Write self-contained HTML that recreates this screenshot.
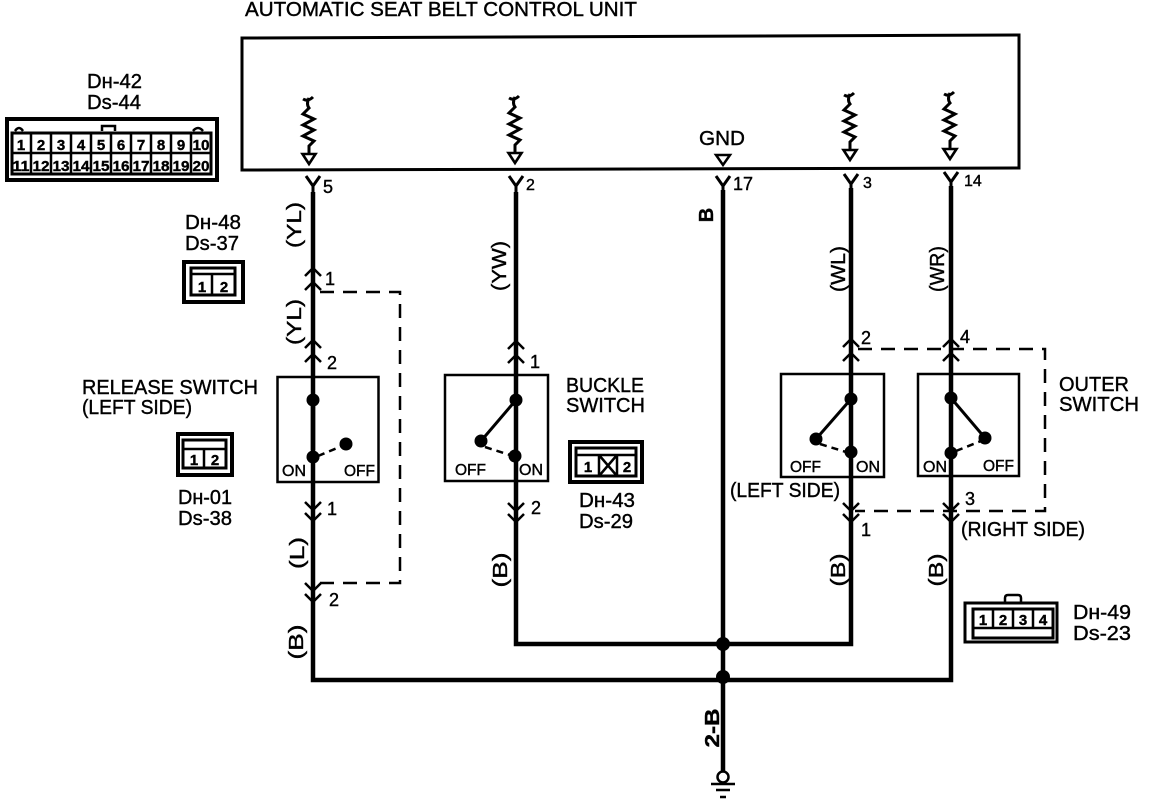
<!DOCTYPE html>
<html><head><meta charset="utf-8"><title>Automatic Seat Belt Control Unit</title>
<style>
html,body{margin:0;padding:0;background:#fff;width:1152px;height:800px;overflow:hidden}
svg{display:block}
text{font-family:"Liberation Sans",sans-serif;font-size:20px;fill:#000;stroke:#000;stroke-width:.4}
.s{font-size:16px}
.c{font-size:15px;font-weight:bold}
.m{text-anchor:middle}
.w{fill:none;stroke:#000;stroke-width:4.5}
.a{fill:none;stroke:#000;stroke-width:3}
.t{fill:none;stroke:#000;stroke-width:2.5}
.d{fill:none;stroke:#000;stroke-width:2.5;stroke-dasharray:14 9}
.b{fill:none;stroke:#000;stroke-width:3}
.o{fill:none;stroke:#000;stroke-width:4}
</style></head><body>
<svg width="1152" height="800" viewBox="0 0 1152 800" xmlns="http://www.w3.org/2000/svg">
<defs>
<g id="r">
<path d="M-6 3 Q-1 6 4 1 M0 2 Q-3 8 0 12 L-6 18 L5 23 L-6 29 L5 34 L-6 40 L5 45 L0 50 L0 57" fill="none" stroke="#000" stroke-width="3"/>
<path d="M-6.5 58 L6.5 58 L0 68 Z" fill="#fff" stroke="#000" stroke-width="2.6"/>
</g>
<path id="y" d="M-7 0 L0 10 L7 0 M0 10 L0 18" fill="none" stroke="#000" stroke-width="3"/>
<path id="u" d="M-8 8 L0 0 L8 8 M-8 22 L0 14 L8 22" fill="none" stroke="#000" stroke-width="2.5"/>
<path id="n" d="M-8 0 L0 8 L8 0 M-8 11 L0 19 L8 11" fill="none" stroke="#000" stroke-width="2.5"/>
</defs>

<text x="245" y="16" textLength="392" lengthAdjust="spacingAndGlyphs">AUTOMATIC SEAT BELT CONTROL UNIT</text>

<path d="M242 38 L1019 35 L1019 168 L242 170 Z" class="b"/>

<use href="#r" x="309" y="96"/>
<use href="#r" x="515" y="95"/>
<use href="#r" x="850" y="92"/>
<use href="#r" x="950" y="91"/>
<text x="722" y="145" class="m" textLength="46" lengthAdjust="spacingAndGlyphs">GND</text>
<path d="M716 155 L730 155 L723 165 Z" fill="#fff" stroke="#000" stroke-width="2.5"/>

<use href="#y" x="313" y="176"/><use href="#y" x="516" y="176"/><use href="#y" x="723" y="176"/><use href="#y" x="851" y="174"/><use href="#y" x="951" y="172"/>
<text x="323" y="193" style="font-size:18px">5</text><text x="526" y="190" class="s">2</text><text x="733" y="190" style="font-size:18px" textLength="20" lengthAdjust="spacingAndGlyphs">17</text><text x="863" y="188" class="s">3</text><text x="964" y="186" class="s">14</text>

<path d="M313 192 V680 H951 V186" class="w"/>
<path d="M516 192 V644 H851 V188" class="w"/>
<path d="M723 190 V772" class="w"/>
<circle cx="723" cy="644" r="7"/>
<circle cx="723" cy="677" r="7"/>
<circle cx="723" cy="777" r="5.5" fill="#fff" stroke="#000" stroke-width="2.5"/>
<path d="M711 784 H735 M716 790 H730 M720 797 H726" stroke="#000" stroke-width="2.6"/>

<path d="M320 292 H400 V583 H320" class="d"/>
<path d="M858 349 H1045 V511 H855" class="d"/>

<rect x="277.500" y="377" width="101" height="105" class="t"/>
<rect x="445" y="375" width="103" height="106" class="t"/>
<rect x="781" y="374" width="103" height="103" class="t"/>
<rect x="918" y="374" width="101" height="102" class="t"/>

<circle cx="313" cy="400" r="6.500"/><circle cx="313" cy="457" r="6.500"/><circle cx="346" cy="444" r="6.500"/>
<path d="M313 400 V450" class="w"/>
<path d="M318 456 L342 446" class="t" stroke-dasharray="7 5"/>
<circle cx="516" cy="400" r="6.500"/><circle cx="481" cy="441" r="6.500"/><circle cx="515" cy="456" r="6.500"/>
<path d="M516 400 L481 441" class="a"/>
<path d="M485 447 L510 455" class="t" stroke-dasharray="7 5"/>
<circle cx="851" cy="399" r="6.500"/><circle cx="816" cy="439" r="6.500"/><circle cx="851" cy="452" r="6.500"/>
<path d="M851 399 L816 439" class="a"/>
<path d="M820 444 L846 452" class="t" stroke-dasharray="7 5"/>
<circle cx="951" cy="398" r="6.500"/><circle cx="985" cy="438" r="6.500"/><circle cx="951" cy="453" r="6.500"/>
<path d="M951 398 L985 438" class="a"/>
<path d="M956 451 L981 441" class="t" stroke-dasharray="7 5"/>

<text x="282" y="476" class="s">ON</text><text x="344" y="476" class="s" textLength="31" lengthAdjust="spacingAndGlyphs">OFF</text>
<text x="455" y="475" class="s" textLength="31" lengthAdjust="spacingAndGlyphs">OFF</text><text x="519" y="475" class="s">ON</text>
<text x="790" y="472" class="s" textLength="31" lengthAdjust="spacingAndGlyphs">OFF</text><text x="856" y="472" class="s">ON</text>
<text x="923" y="472" class="s">ON</text><text x="983" y="471" class="s" textLength="31" lengthAdjust="spacingAndGlyphs">OFF</text>

<use href="#u" x="313" y="268"/><use href="#u" x="313" y="340"/><use href="#n" x="313" y="502"/><use href="#n" x="313" y="583"/>
<use href="#u" x="516" y="341"/><use href="#n" x="516" y="503"/>
<use href="#u" x="851" y="339"/><use href="#n" x="851" y="503"/>
<use href="#u" x="951" y="339"/><use href="#n" x="951" y="503"/>

<text x="325" y="285" style="font-size:18px">1</text><text x="327" y="369" style="font-size:18px">2</text><text x="327" y="515" style="font-size:18px">1</text><text x="329" y="606" style="font-size:18px">2</text>
<text x="530" y="368" style="font-size:18px">1</text><text x="531" y="514" style="font-size:18px">2</text>
<text x="861" y="344" style="font-size:18px">2</text><text x="960" y="343" style="font-size:18px">4</text><text x="861" y="536" style="font-size:18px">1</text><text x="965" y="505" style="font-size:18px">3</text>

<text transform="translate(301 225) rotate(-90)" class="m" textLength="46" lengthAdjust="spacingAndGlyphs">(YL)</text>
<text transform="translate(301 322) rotate(-90)" class="m" textLength="46" lengthAdjust="spacingAndGlyphs">(YL)</text>
<text transform="translate(304 553) rotate(-90)" class="m" textLength="32" lengthAdjust="spacingAndGlyphs">(L)</text>
<text transform="translate(303 642) rotate(-90)" class="m" textLength="35" lengthAdjust="spacingAndGlyphs">(B)</text>
<text transform="translate(506 266) rotate(-90)" class="m" textLength="50" lengthAdjust="spacingAndGlyphs">(YW)</text>
<text transform="translate(507 570) rotate(-90)" class="m" textLength="35" lengthAdjust="spacingAndGlyphs">(B)</text>
<text transform="translate(713 215) rotate(-90)" class="m" style="font-weight:bold">B</text>
<text transform="translate(845 269) rotate(-90)" class="m" textLength="46" lengthAdjust="spacingAndGlyphs">(WL)</text>
<text transform="translate(944 269) rotate(-90)" class="m" textLength="46" lengthAdjust="spacingAndGlyphs">(WR)</text>
<text transform="translate(845 570) rotate(-90)" class="m" textLength="33" lengthAdjust="spacingAndGlyphs">(B)</text>
<text transform="translate(943 570) rotate(-90)" class="m" textLength="33" lengthAdjust="spacingAndGlyphs">(B)</text>
<text transform="translate(719 728) rotate(-90)" class="m" textLength="39" lengthAdjust="spacingAndGlyphs" style="font-weight:bold">2-B</text>

<text x="82" y="394" textLength="176" lengthAdjust="spacingAndGlyphs">RELEASE SWITCH</text>
<text x="82" y="414" textLength="110" lengthAdjust="spacingAndGlyphs">(LEFT SIDE)</text>
<text x="566" y="392" textLength="78" lengthAdjust="spacingAndGlyphs">BUCKLE</text>
<text x="566" y="412" textLength="79" lengthAdjust="spacingAndGlyphs">SWITCH</text>
<text x="1059" y="391" textLength="70" lengthAdjust="spacingAndGlyphs">OUTER</text>
<text x="1059" y="411" textLength="80" lengthAdjust="spacingAndGlyphs">SWITCH</text>
<text x="730" y="497" textLength="110" lengthAdjust="spacingAndGlyphs">(LEFT SIDE)</text>
<text x="961" y="536" textLength="124" lengthAdjust="spacingAndGlyphs">(RIGHT SIDE)</text>

<text x="87" y="88" textLength="55" lengthAdjust="spacingAndGlyphs">Dн-42</text><text x="87" y="109" textLength="54" lengthAdjust="spacingAndGlyphs">Ds-44</text>
<text x="185" y="229" textLength="56" lengthAdjust="spacingAndGlyphs">Dн-48</text><text x="185" y="250" textLength="54" lengthAdjust="spacingAndGlyphs">Ds-37</text>
<text x="178" y="504" textLength="54" lengthAdjust="spacingAndGlyphs">Dн-01</text><text x="178" y="525" textLength="54" lengthAdjust="spacingAndGlyphs">Ds-38</text>
<text x="579" y="507" textLength="56" lengthAdjust="spacingAndGlyphs">Dн-43</text><text x="579" y="528" textLength="54" lengthAdjust="spacingAndGlyphs">Ds-29</text>
<text x="1073" y="619" textLength="58" lengthAdjust="spacingAndGlyphs">Dн-49</text><text x="1073" y="640" textLength="58" lengthAdjust="spacingAndGlyphs">Ds-23</text>

<!-- Dн-42 connector -->
<rect x="7" y="119" width="210" height="61" class="o"/>
<path d="M12 133 H211 V174 H12 Z" fill="none" stroke="#000" stroke-width="3"/>
<path d="M15 131 q4 -6 8 0 M102 131 v-5 h13 v5 M193 131 q5 -6 10 0" fill="none" stroke="#000" stroke-width="2.5"/>
<path d="M12 153 H211 M31 133 V174 M51 133 V174 M71 133 V174 M91 133 V174 M111 133 V174 M131 133 V174 M151 133 V174 M171 133 V174 M191 133 V174" stroke="#000" stroke-width="2.5"/>
<text x="21" y="150" class="c m">1</text><text x="41" y="150" class="c m">2</text><text x="61" y="150" class="c m">3</text><text x="81" y="150" class="c m">4</text><text x="101" y="150" class="c m">5</text><text x="121" y="150" class="c m">6</text><text x="141" y="150" class="c m">7</text><text x="161" y="150" class="c m">8</text><text x="181" y="150" class="c m">9</text><text x="201" y="150" class="c m" textLength="17" lengthAdjust="spacingAndGlyphs">10</text>
<text x="21" y="171" class="c m" textLength="17" lengthAdjust="spacingAndGlyphs">11</text><text x="41" y="171" class="c m" textLength="17" lengthAdjust="spacingAndGlyphs">12</text><text x="61" y="171" class="c m" textLength="17" lengthAdjust="spacingAndGlyphs">13</text><text x="81" y="171" class="c m" textLength="17" lengthAdjust="spacingAndGlyphs">14</text><text x="101" y="171" class="c m" textLength="17" lengthAdjust="spacingAndGlyphs">15</text><text x="121" y="171" class="c m" textLength="17" lengthAdjust="spacingAndGlyphs">16</text><text x="141" y="171" class="c m" textLength="17" lengthAdjust="spacingAndGlyphs">17</text><text x="161" y="171" class="c m" textLength="17" lengthAdjust="spacingAndGlyphs">18</text><text x="181" y="171" class="c m" textLength="17" lengthAdjust="spacingAndGlyphs">19</text><text x="201" y="171" class="c m" textLength="17" lengthAdjust="spacingAndGlyphs">20</text>

<!-- Dн-48 -->
<rect x="184" y="262" width="59" height="40" class="o"/>
<rect x="191" y="268" width="44" height="27" class="b"/>
<path d="M191 274 H235 M212 274 V295" stroke="#000" stroke-width="2.500"/>
<text x="202" y="292" class="c m">1</text><text x="224" y="292" class="c m">2</text>

<!-- Dн-01 -->
<rect x="178" y="434" width="54" height="41" class="o"/>
<rect x="183" y="440" width="43" height="28" class="b"/>
<path d="M183 449 H226 M204 449 V468" stroke="#000" stroke-width="2.500"/>
<text x="194" y="465" class="c m">1</text><text x="215" y="465" class="c m">2</text>

<!-- Dн-43 -->
<rect x="570" y="442" width="72" height="40" class="o"/>
<rect x="576" y="448" width="60" height="28" class="b"/>
<path d="M576 455 H636 M599 455 V476 M617 455 V476 M599 455 L617 476 M617 455 L599 476" stroke="#000" stroke-width="2.500"/>
<text x="588" y="472" class="c m">1</text><text x="627" y="472" class="c m">2</text>

<!-- Dн-49 -->
<rect x="965" y="603" width="92" height="39" class="b"/>
<path d="M1005 602 v-4 q0 -3 3 -3 h10 q3 0 3 3 v4" fill="none" stroke="#000" stroke-width="2.500"/>
<rect x="973" y="609" width="80" height="29" class="b"/>
<path d="M973 628 H1053 M993 609 V628 M1013 609 V628 M1033 609 V628" stroke="#000" stroke-width="2.500"/>
<text x="983" y="625" class="c m">1</text><text x="1003" y="625" class="c m">2</text><text x="1023" y="625" class="c m">3</text><text x="1043" y="625" class="c m">4</text>
</svg>
</body></html>
